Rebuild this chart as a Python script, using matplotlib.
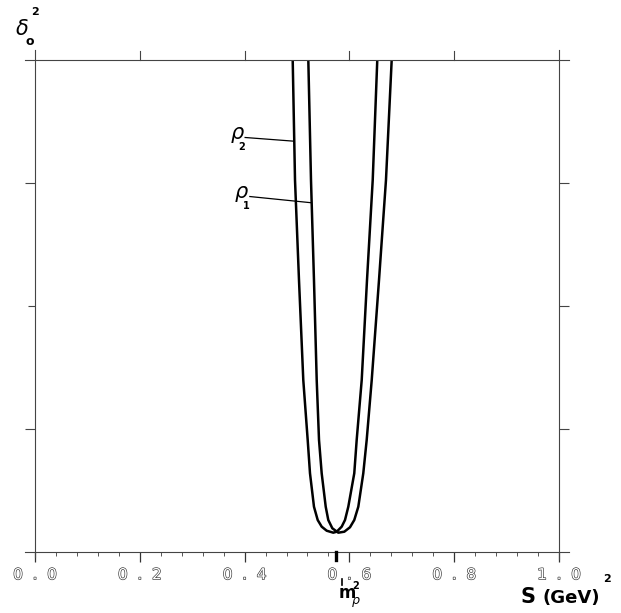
import matplotlib

matplotlib.use("Agg")
import matplotlib.pyplot as plt
import matplotlib.patheffects as pe
import numpy as np

W, H = 621, 613

# --- curves (s in GeV^2, delta_o^2 in arbitrary units) ---------------------------------------------
rho2_s = [0.4918, 0.4962, 0.5038, 0.5120, 0.5204, 0.5248, 0.5324, 0.5395, 0.5471, 0.5567, 0.5693,
          0.5758, 0.5853, 0.5916, 0.5979, 0.6093, 0.6139, 0.6235, 0.6336, 0.6445, 0.6532]
rho2_d = [4.0, 3.024, 2.211, 1.398, 0.911, 0.640, 0.368, 0.260, 0.206, 0.173, 0.157,
          0.165, 0.206, 0.260, 0.368, 0.640, 0.911, 1.398, 2.211, 3.024, 4.0]
rho1_s = [0.5216, 0.5267, 0.5324, 0.5376, 0.5420, 0.5471, 0.5548, 0.5597, 0.5674, 0.5788,
          0.5903, 0.6011, 0.6093, 0.6170, 0.6265, 0.6330, 0.6426, 0.6565, 0.6698, 0.6807]
rho1_d = [4.0, 3.024, 2.211, 1.398, 0.911, 0.640, 0.368, 0.260, 0.193, 0.157,
          0.165, 0.201, 0.260, 0.368, 0.640, 0.911, 1.398, 2.211, 3.024, 4.0]

x_major = [0.0, 0.2, 0.4, 0.6, 0.8, 1.0]
x_labels = ["0.0", "0.2", "0.4", "0.6", "0.8", "1.0"]
x_minor = np.arange(0, 1.0001, 0.04)
y_ticks = [1, 2, 3]
m_rho2 = 0.574

# label anchors: (text x, text y, leader end x, leader end y)
lab_rho2 = (0.401, 3.37, 0.494, 3.34)
lab_rho1 = (0.410, 2.89, 0.526, 2.84)


def fx(px):
    return px / W


def fy(py):
    return 1 - py / H


fig = plt.figure(figsize=(W / 100, H / 100), dpi=100)
ax = fig.add_axes([fx(35), fy(552), (559 - 35) / W, (552 - 60) / H])
ax.set_xlim(0, 1)
ax.set_ylim(0, 4)

ax.plot(rho2_s, rho2_d, color="black", lw=1.8, solid_joinstyle="round")
ax.plot(rho1_s, rho1_d, color="black", lw=1.8, solid_joinstyle="round")

# leaders + rho labels
for (tx, ty, ex, ey), sub in [(lab_rho2, "2"), (lab_rho1, "1")]:
    ax.plot([tx, ex], [ty, ey], color="black", lw=0.9)
    ax.text(tx - 0.001, ty + 0.02, r"$\rho$", fontsize=15, ha="right", va="center")
    ax.text(tx - 0.006, ty - 0.08, sub, fontsize=7, fontweight="bold", ha="center", va="center")

# frame: thin greyish lines slightly overshooting the box
for s in ax.spines.values():
    s.set_visible(False)
fr = dict(color="#444444", lw=0.8, transform=ax.transAxes, clip_on=False)
ax.plot([-0.02, 1.02], [0, 0], **fr)
ax.plot([-0.02, 1.02], [1, 1], **fr)
ax.plot([0, 0], [-0.01, 1.02], **fr)
ax.plot([1, 1], [-0.015, 1.02], **fr)

# bottom ticks, hollow-looking labels
ax.set_xticks(x_major)
ax.set_xticks(x_minor, minor=True)
ax.tick_params(axis="x", which="major", direction="out", length=7, width=0.9, color="#333333", pad=4,
               top=False)
ax.tick_params(axis="x", which="minor", direction="out", length=3, width=0.7, color="#555555", top=False)
ax.set_xticklabels(["  ".join(t) for t in x_labels], family="DejaVu Sans", fontsize=11, color="white",
                   path_effects=[pe.Stroke(linewidth=0.9, foreground="#333333"), pe.Normal()])

# top ticks (major only, pointing up)
for xv in [0.2, 0.4, 0.6, 0.8]:
    ax.plot([xv, xv], [1, 1.018], color="#444444", lw=0.8, transform=ax.get_xaxis_transform(), clip_on=False)

# left / right ticks
ax.set_yticks(y_ticks)
ax.set_yticklabels([])
ax.tick_params(axis="y", direction="out", length=7, width=0.8, color="#444444", right=True)
ax.yaxis.get_major_ticks()[1].tick1line.set_markersize(5)

# m_rho^2 marker
ax.plot([m_rho2, m_rho2], [0, -0.016], color="black", lw=2.4, transform=ax.get_xaxis_transform(),
        clip_on=False)
fig.add_artist(plt.Line2D([fx(342), fx(342)], [fy(579), fy(585)], color="black", lw=1.2))
fig.text(fx(339), fy(598), "m", fontsize=12, fontweight="bold", va="baseline")
fig.text(fx(351), fy(604), r"$\rho$", fontsize=9, va="baseline")
fig.text(fx(352), fy(589), "2", fontsize=7, fontweight="bold", va="baseline")

# axis titles
fig.text(fx(521), fy(603), "S", fontsize=15, fontweight="bold", va="baseline")
fig.text(fx(542), fy(603), "(GeV)", fontsize=13, fontweight="bold", va="baseline")
fig.text(fx(603), fy(582), "2", fontsize=8, fontweight="bold", va="baseline")

fig.text(fx(15), fy(35), r"$\delta$", fontsize=15, va="baseline")
fig.text(fx(25), fy(45), "o", fontsize=9, fontweight="bold", va="baseline")
fig.text(fx(31), fy(15), "2", fontsize=8, fontweight="bold", va="baseline")

fig.savefig("out.png", dpi=100, facecolor="white")
